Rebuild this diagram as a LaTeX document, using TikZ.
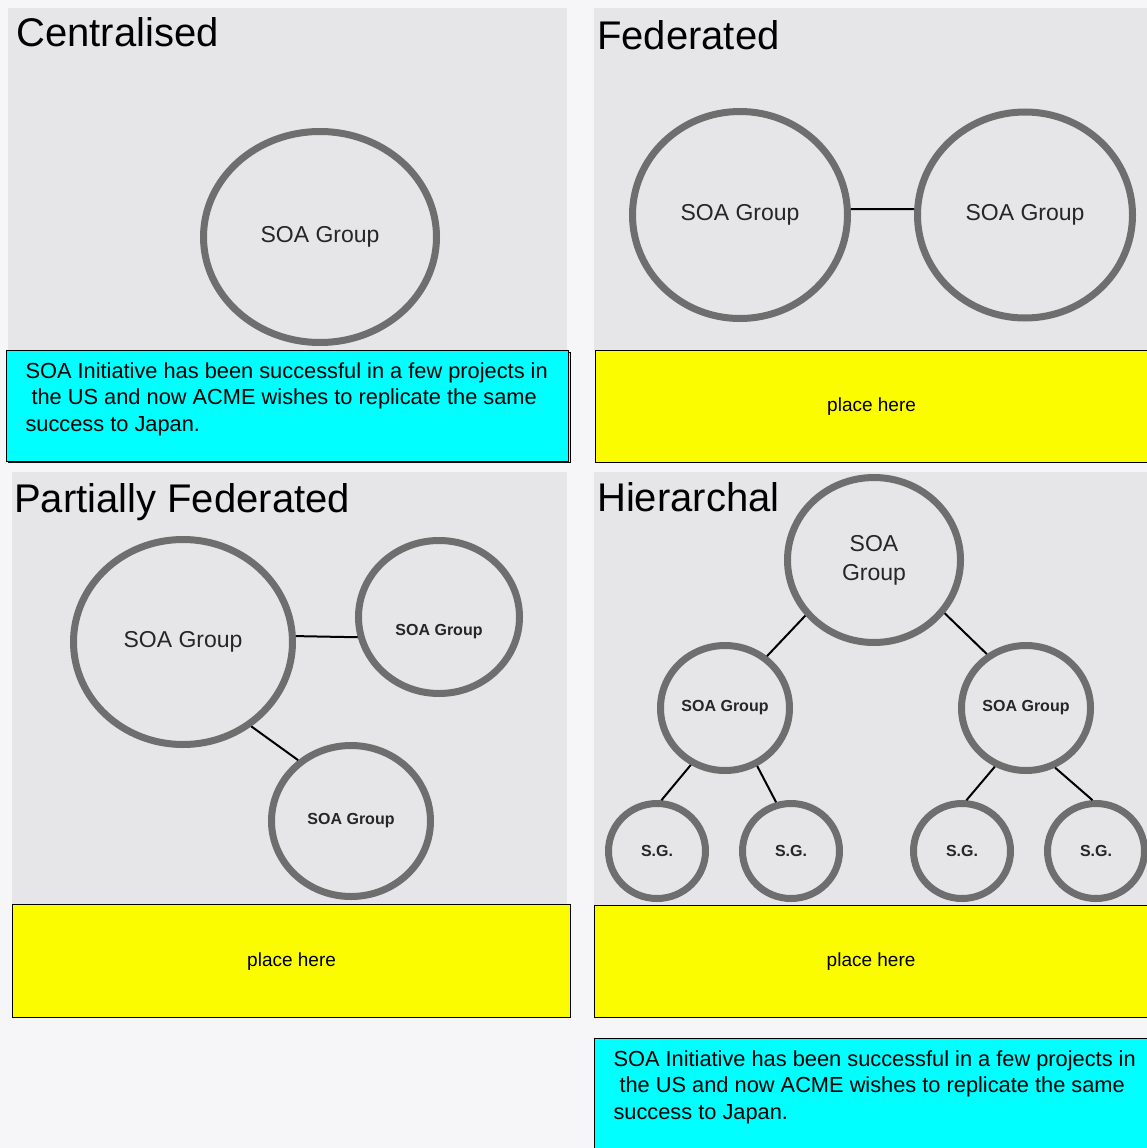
\documentclass[tikz,border=0pt]{standalone}
\usepackage{fontspec}
\setmainfont{Liberation Sans}
\usetikzlibrary{shapes.geometric, positioning}
\definecolor{pagebg}{HTML}{F6F6F8}
\definecolor{panelgray}{HTML}{E6E5E8}
\definecolor{ringgray}{HTML}{6E6E6E}
\definecolor{notecyan}{HTML}{00FFFF}
\definecolor{noteyellow}{HTML}{FCFC00}
\tikzstyle{panel} = [fill=panelgray]
\tikzstyle{title} = [anchor=base west, inner sep=0pt, font=\fontsize{40}{48}\selectfont]
\tikzstyle{group} = [ellipse, draw=ringgray, line width=7pt, inner sep=0pt, align=center, text=black!85, font=\fontsize{23}{29}\selectfont]
\tikzstyle{subgroup} = [group, font=\bfseries\fontsize{16}{19}\selectfont]
\tikzstyle{note} = [rectangle, draw=black, line width=1pt, fill=notecyan, anchor=north west, inner xsep=19pt, inner ysep=12pt, font=\fontsize{21.8}{26.5}\selectfont]
\tikzstyle{holder} = [rectangle, draw=black, line width=1.2pt, fill=noteyellow, anchor=north west, inner sep=0pt, font=\fontsize{19}{23}\selectfont]
\tikzstyle{link} = [line width=2pt, black]

\begin{document}
\begin{tikzpicture}[x=1pt, y=-1pt]
		\useasboundingbox (0,0) rectangle (1147,1148);
		\fill [pagebg] (0,0) rectangle (1147,1148);
		\fill [panel] (8,8) rectangle (567,350);
		\fill [panel] (594,8) rectangle (1147,350);
		\fill [panel] (12,472) rectangle (567,904);
		\fill [panel] (594,472) rectangle (1147,905);
		\node (CentralTitle) [title] at (16,47) {Centralised};
		\node (FedTitle) [title] at (597,50) {Federated};
		\node (PartialTitle) [title] at (14,512) {Partially Federated};
		\node (HierTitle) [title] at (597,511) {Hierarchal};
		\node (CentralGroup) [group, minimum width=233pt, minimum height=211pt] at (320,237) {SOA Group};
		\node (FedLeft) [group, minimum width=215pt, minimum height=207pt] at (740,215) {SOA Group};
		\node (FedRight) [group, minimum width=215pt, minimum height=206pt] at (1025,215) {SOA Group};
		\node (PartialMain) [group, minimum width=219pt, minimum height=205pt] at (183,642) {SOA Group};
		\node (PartialUpper) [subgroup, text height=40pt, minimum width=161pt, minimum height=153pt] at (439,617) {SOA Group};
		\node (PartialLower) [subgroup, minimum width=159pt, minimum height=151pt] at (351,821) {SOA Group};
		\node (HierTop) [group, minimum width=173pt, minimum height=165pt] at (874,560) {SOA\\Group};
		\node (HierLeft) [subgroup, minimum width=129pt, minimum height=125pt] at (725,708) {SOA Group};
		\node (HierRight) [subgroup, minimum width=129pt, minimum height=125pt] at (1026,708) {SOA Group};
		\foreach \x/\name in {657/SGa, 791/SGb, 962/SGc, 1096/SGd}
			\node (\name) [subgroup, minimum width=97pt, minimum height=95pt] at (\x,851) {S.G.};
		\draw [link] (FedLeft.3) -- (FedRight.177);
		\draw [link] (PartialMain.3) -- (PartialUpper.-166);
		\draw [link] (PartialMain.-51) -- (PartialLower.131);
		\draw [link] (HierTop.-141) -- (HierLeft.51);
		\draw [link] (HierTop.-37) -- (HierRight.126);
		\draw [link] (HierLeft.-121) -- (SGa.85);
		\draw [link] (HierLeft.-61) -- (SGb.107);
		\draw [link] (HierRight.-118) -- (SGc.85);
		\draw [link] (HierRight.-64) -- (SGd.94);
		\draw [fill=noteyellow, line width=1pt] (8,352) rectangle (570,462);
		\node (CentralNote) [note] at (6,350) {\parbox[c][87pt][t]{524pt}{\mbox{SOA Initiative has been successful in a few projects in}\\\mbox{~the US and now ACME wishes to replicate the same}\\\mbox{success to Japan.}}};
		\node (FedHolder) [holder, minimum width=552pt, minimum height=112pt] at (595,350) {place here};
		\node (PartialHolder) [holder, minimum width=558pt, minimum height=113pt] at (12,904) {place here};
		\node (HierHolder) [holder, minimum width=553pt, minimum height=112pt] at (594,905) {place here};
		\node (HierNote) [note] at (594,1038) {\parbox[c][87pt][t]{515pt}{\mbox{SOA Initiative has been successful in a few projects in}\\\mbox{~the US and now ACME wishes to replicate the same}\\\mbox{success to Japan.}}};
\end{tikzpicture}
\end{document}
